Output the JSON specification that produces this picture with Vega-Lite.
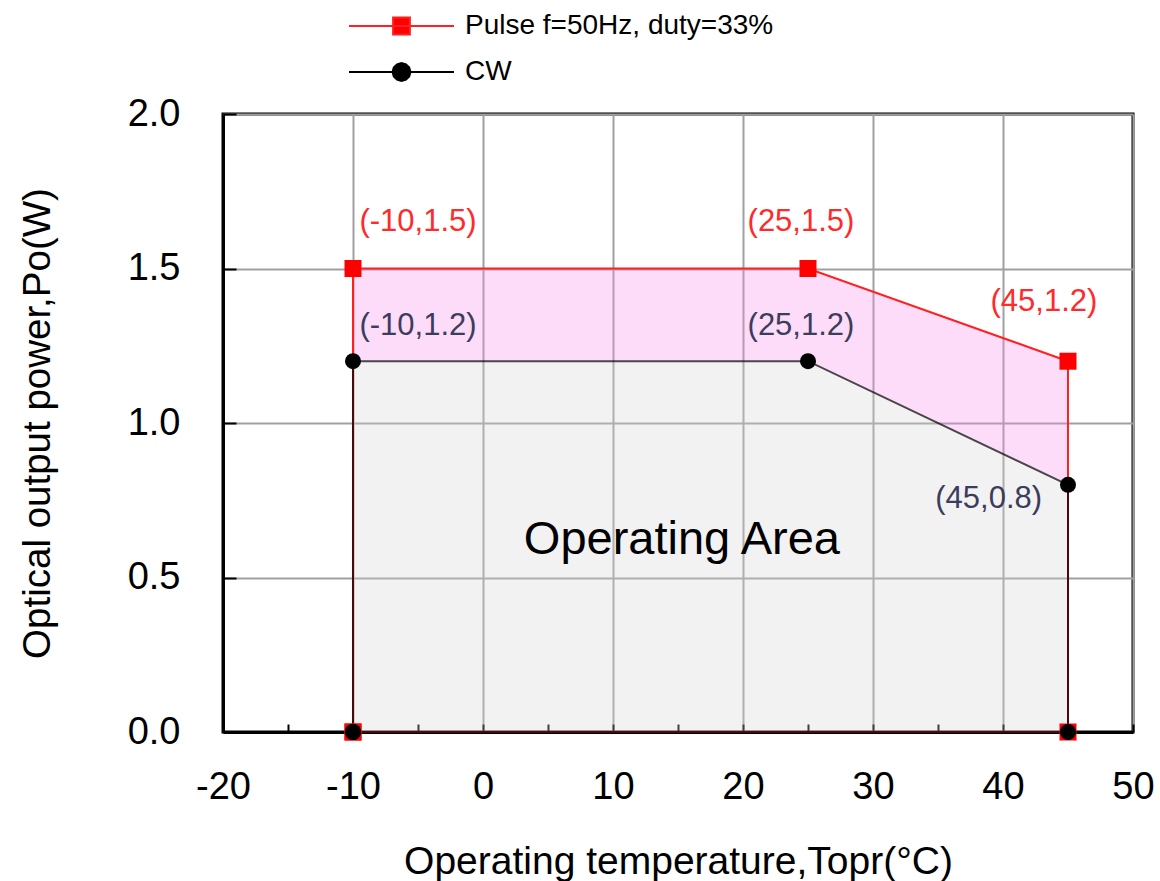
{
  "$schema": "https://vega.github.io/schema/vega-lite/v6.json",
  "autosize": "none",
  "width": 910,
  "height": 618,
  "padding": {"left": 223, "top": 114, "right": 27, "bottom": 149},
  "background": "white",
  "config": {"view": {"stroke": "black", "strokeWidth": 3}, "font": "Liberation Sans"},
  "datasets": {
    "band": [
      {"x": -10, "pulse": 1.5, "cw": 1.2},
      {"x": 25, "pulse": 1.5, "cw": 1.2},
      {"x": 45, "pulse": 1.2, "cw": 0.8}
    ],
    "poly": [
      {"series": "Pulse f=50Hz, duty=33%", "order": 1, "x": -10, "y": 0},
      {"series": "Pulse f=50Hz, duty=33%", "order": 2, "x": -10, "y": 1.5},
      {"series": "Pulse f=50Hz, duty=33%", "order": 3, "x": 25, "y": 1.5},
      {"series": "Pulse f=50Hz, duty=33%", "order": 4, "x": 45, "y": 1.2},
      {"series": "Pulse f=50Hz, duty=33%", "order": 5, "x": 45, "y": 0},
      {"series": "Pulse f=50Hz, duty=33%", "order": 6, "x": -10, "y": 0},
      {"series": "CW", "order": 1, "x": -10, "y": 0},
      {"series": "CW", "order": 2, "x": -10, "y": 1.2},
      {"series": "CW", "order": 3, "x": 25, "y": 1.2},
      {"series": "CW", "order": 4, "x": 45, "y": 0.8},
      {"series": "CW", "order": 5, "x": 45, "y": 0},
      {"series": "CW", "order": 6, "x": -10, "y": 0}
    ],
    "labels": [
      {"label": "(-10,1.5)", "x": -5.0, "y": 1.65, "series": "Pulse"},
      {"label": "(25,1.5)", "x": 24.46, "y": 1.65, "series": "Pulse"},
      {"label": "(45,1.2)", "x": 43.15, "y": 1.39, "series": "Pulse"},
      {"label": "(-10,1.2)", "x": -5.0, "y": 1.314, "series": "CW"},
      {"label": "(25,1.2)", "x": 24.46, "y": 1.314, "series": "CW"},
      {"label": "(45,0.8)", "x": 38.9, "y": 0.754, "series": "CW"}
    ]
  },
  "layer": [
    {
      "data": {"name": "band"},
      "mark": {"type": "area", "color": "#f88aee", "opacity": 0.3},
      "encoding": {
        "x": {
          "field": "x", "type": "quantitative",
          "scale": {"domain": [-20, 50], "nice": false, "zero": false},
          "axis": {
            "values": [-20, -15, -10, -5, 0, 5, 10, 15, 20, 25, 30, 35, 40, 45, 50],
            "labelExpr": "datum.value % 10 === 0 ? '' + datum.value : ''",
            "labelOverlap": false,
            "labelFlush": false,
            "grid": true, "gridColor": "#a0a0a0", "gridWidth": 2,
            "gridOpacity": {"condition": {"test": "datum.value % 10 !== 0", "value": 0}, "value": 1},
            "tickSize": -8, "tickColor": "black", "tickWidth": 2,
            "domainColor": "black", "domainWidth": 3,
            "labelFont": "Liberation Sans", "labelFontSize": 38, "labelColor": "black", "labelPadding": 44,
            "title": "Operating temperature,Topr(°C)",
            "titleFont": "Liberation Sans", "titleFontSize": 39, "titleFontWeight": "normal", "titleColor": "black", "titlePadding": 36
          }
        },
        "y": {
          "field": "pulse", "type": "quantitative",
          "title": "Optical output power,Po(W)",
          "scale": {"domain": [0, 2], "nice": false},
          "axis": {
            "values": [0, 0.5, 1, 1.5, 2],
            "format": ".1f",
            "labelOverlap": false,
            "labelFlush": false,
            "grid": true, "gridColor": "#a0a0a0", "gridWidth": 2,
            "tickSize": -13, "tickColor": "black", "tickWidth": 2,
            "domainColor": "black", "domainWidth": 3,
            "labelFont": "Liberation Sans", "labelFontSize": 38, "labelColor": "black", "labelPadding": 56,
            "titleFont": "Liberation Sans", "titleFontSize": 38.5, "titleFontWeight": "normal", "titleColor": "black", "titlePadding": 70
          }
        },
        "y2": {"field": "cw"}
      }
    },
    {
      "data": {"name": "band"},
      "mark": {"type": "area", "color": "#d4d4d4", "opacity": 0.3},
      "encoding": {
        "x": {"field": "x", "type": "quantitative"},
        "y": {"field": "cw", "type": "quantitative", "title": "Optical output power,Po(W)"},
        "y2": {"datum": 0}
      }
    },
    {
      "data": {"name": "poly"},
      "mark": {"type": "line", "strokeWidth": 2},
      "encoding": {
        "x": {"field": "x", "type": "quantitative"},
        "y": {"field": "y", "type": "quantitative", "title": "Optical output power,Po(W)"},
        "order": {"field": "order", "type": "quantitative"},
        "opacity": {"condition": {"test": "datum.series === 'CW'", "value": 0.7}, "value": 1},
        "color": {
          "field": "series", "type": "nominal",
          "scale": {"domain": ["CW", "Pulse f=50Hz, duty=33%"], "range": ["#000000", "#ff2020"]},
          "legend": null
        }
      }
    },
    {
      "data": {"name": "poly"},
      "mark": {"type": "point", "filled": true, "size": 100, "opacity": 1},
      "encoding": {
        "x": {"field": "x", "type": "quantitative"},
        "y": {"field": "y", "type": "quantitative", "title": "Optical output power,Po(W)"},
        "fill": {
          "field": "series", "type": "nominal",
          "scale": {"domain": ["Pulse f=50Hz, duty=33%", "CW"], "range": ["#ff0000", "#000000"]},
          "legend": {
            "orient": "none", "legendX": 125, "legendY": -99, "direction": "vertical",
            "title": null, "padding": 0,
            "labelFont": "Liberation Sans", "labelFontSize": 28, "labelColor": "black", "labelOffset": 10, "labelLimit": 0,
            "symbolSize": 11025, "symbolStrokeWidth": 2, "symbolOpacity": 1,
            "clipHeight": 22, "rowPadding": 18
          }
        },
        "stroke": {
          "field": "series", "type": "nominal",
          "scale": {"domain": ["Pulse f=50Hz, duty=33%", "CW"], "range": ["#ff2020", "#000000"]},
          "legend": {
            "orient": "none", "legendX": 125, "legendY": -99, "direction": "vertical",
            "title": null, "padding": 0,
            "labelFont": "Liberation Sans", "labelFontSize": 28, "labelColor": "black", "labelOffset": 10, "labelLimit": 0,
            "symbolSize": 11025, "symbolStrokeWidth": 2, "symbolOpacity": 1,
            "clipHeight": 22, "rowPadding": 18
          }
        },
        "shape": {
          "field": "series", "type": "nominal",
          "scale": {"domain": ["Pulse f=50Hz, duty=33%", "CW"], "range": ["M-1,0H1M-0.16,-0.16H0.16V0.16H-0.16Z", "M-1,0H1M0.17,0L0.147,0.085L0.085,0.147L0,0.17L-0.085,0.147L-0.147,0.085L-0.17,0L-0.147,-0.085L-0.085,-0.147L0,-0.17L0.085,-0.147L0.147,-0.085Z"]},
          "legend": {
            "orient": "none", "legendX": 125, "legendY": -99, "direction": "vertical",
            "title": null, "padding": 0,
            "labelFont": "Liberation Sans", "labelFontSize": 28, "labelColor": "black", "labelOffset": 10, "labelLimit": 0,
            "symbolSize": 11025, "symbolStrokeWidth": 2, "symbolOpacity": 1,
            "clipHeight": 22, "rowPadding": 18
          }
        }
      }
    },
    {
      "data": {"name": "poly"},
      "transform": [{"filter": "datum.series !== 'CW'"}],
      "mark": {"type": "point", "shape": "square", "filled": true, "size": 289, "color": "#ff0000", "opacity": 1},
      "encoding": {
        "x": {"field": "x", "type": "quantitative"},
        "y": {"field": "y", "type": "quantitative", "title": "Optical output power,Po(W)"}
      }
    },
    {
      "data": {"name": "poly"},
      "transform": [{"filter": "datum.series === 'CW'"}],
      "mark": {"type": "point", "shape": "circle", "filled": true, "size": 256, "color": "#000000", "opacity": 1},
      "encoding": {
        "x": {"field": "x", "type": "quantitative"},
        "y": {"field": "y", "type": "quantitative", "title": "Optical output power,Po(W)"}
      }
    },
    {
      "data": {"name": "labels"},
      "mark": {"type": "text", "font": "Liberation Sans", "fontSize": 31, "baseline": "middle", "align": "center"},
      "encoding": {
        "x": {"field": "x", "type": "quantitative"},
        "y": {"field": "y", "type": "quantitative", "title": "Optical output power,Po(W)"},
        "text": {"field": "label"},
        "color": {"condition": {"test": "datum.series === 'Pulse'", "value": "#ff2a2a"}, "value": "#3c3c5c"}
      }
    },
    {
      "data": {"values": [{"label": "Operating Area", "x": 15.3, "y": 0.62}]},
      "mark": {"type": "text", "font": "Liberation Sans", "fontSize": 47, "baseline": "middle", "align": "center", "color": "black"},
      "encoding": {
        "x": {"field": "x", "type": "quantitative"},
        "y": {"field": "y", "type": "quantitative", "title": "Optical output power,Po(W)"},
        "text": {"field": "label"}
      }
    }
  ]
}
